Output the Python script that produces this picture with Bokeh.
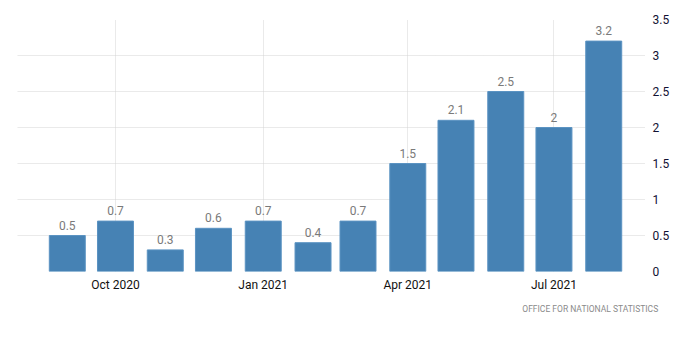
import pandas as pd
from bokeh.plotting import figure
from bokeh.models import ColumnDataSource, Range1d, FixedTicker, DatetimeTickFormatter, LinearAxis, Title
from bokeh.embed import file_html
from bokeh.resources import INLINE

months = ["2020-09", "2020-10", "2020-11", "2020-12", "2021-01", "2021-02",
          "2021-03", "2021-04", "2021-05", "2021-06", "2021-07", "2021-08"]
values = [0.5, 0.7, 0.3, 0.6, 0.7, 0.4, 0.7, 1.5, 2.1, 2.5, 2.0, 3.2]
value_labels = ["0.5", "0.7", "0.3", "0.6", "0.7", "0.4", "0.7", "1.5", "2.1", "2.5", "2", "3.2"]
tick_months = ["2020-10", "2021-01", "2021-04", "2021-07"]
y_ticks = [0, 0.5, 1, 1.5, 2, 2.5, 3, 3.5]
source_text = "OFFICE  FOR  NATIONAL  STATISTICS"

dates = pd.to_datetime(months)
src = ColumnDataSource(dict(x=dates, top=values, label=value_labels))

DAY = 86400000
x_start = pd.Timestamp("2020-08-01").value // 10**6
x_end = pd.Timestamp("2021-08-27").value // 10**6

p = figure(width=684, height=340, x_axis_type="datetime", output_backend="svg",
           toolbar_location=None, x_range=Range1d(x_start, x_end), y_range=Range1d(0, 3.5),
           y_axis_location=None, min_border_left=17, min_border_right=39,
           min_border_top=19, min_border_bottom=69)
p.outline_line_color = None
p.background_fill_color = "white"
p.border_fill_color = "white"

p.vbar(x="x", top="top", width=22.4 * DAY, source=src, fill_color="#4682b4",
       line_color="#5b93c2", line_width=1)

p.text(x="x", y="top", text="label", source=src, text_align="center",
       text_baseline="bottom", y_offset=-6, text_font_size="12px",
       text_color="#7a7a7a", text_font={"value": "Roboto"})

tick_ms = [pd.Timestamp(m).value // 10**6 for m in tick_months]
xax = p.xaxis[0]
xax.ticker = FixedTicker(ticks=tick_ms)
xax.formatter = DatetimeTickFormatter(months="%b %Y", days="%b %Y", years="%b %Y")
xax.axis_line_color = None
xax.major_tick_line_color = None
xax.minor_tick_line_color = None
xax.major_tick_out = 0
xax.major_tick_in = 0
xax.major_label_text_font = "Roboto"
xax.major_label_text_font_size = "12px"
xax.major_label_text_color = "#111111"
xax.major_label_standoff = 6

yax = LinearAxis(ticker=FixedTicker(ticks=y_ticks))
yax.axis_line_color = None
yax.major_tick_line_color = None
yax.minor_tick_line_color = None
yax.major_tick_out = 0
yax.major_tick_in = 0
yax.major_label_text_font = "Roboto"
yax.major_label_text_font_size = "12px"
yax.major_label_text_color = "#111133"
yax.major_label_standoff = 7
p.add_layout(yax, "right")

p.xgrid.ticker = FixedTicker(ticks=tick_ms)
p.xgrid.grid_line_color = "#d4d4d4"
p.xgrid.grid_line_dash = "1 1"
p.ygrid.ticker = FixedTicker(ticks=y_ticks)
p.ygrid.grid_line_color = "#d4d4d4"
p.ygrid.grid_line_dash = "1 1"

title = Title(text=source_text, align="right", text_font="Roboto", text_font_size="8.5px",
              text_font_style="normal", text_color="#8a8a8a", offset=-19, standoff=14)
p.add_layout(title, "below")

open("out.html", "w").write(file_html(p, INLINE))
